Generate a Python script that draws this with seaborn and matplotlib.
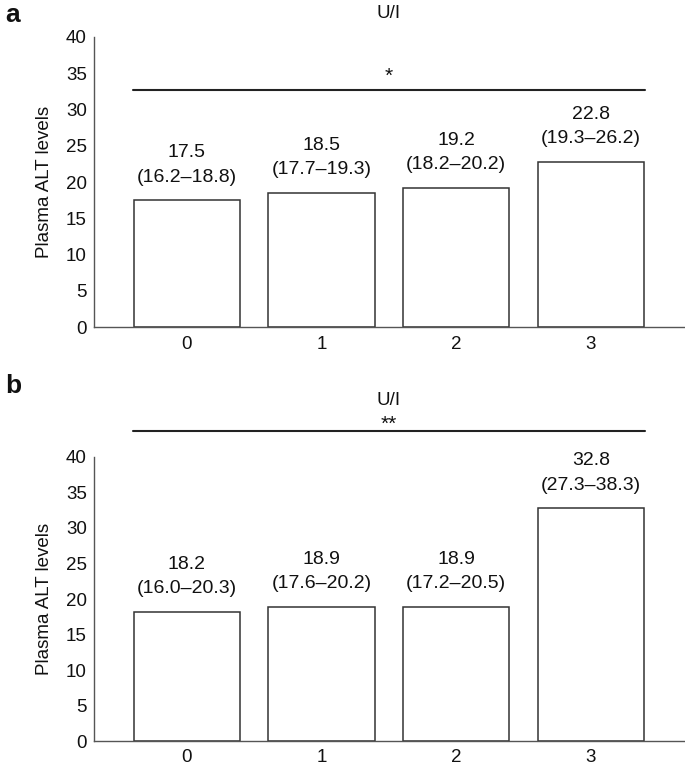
import numpy as np
import pandas as pd
import matplotlib
matplotlib.use('Agg')
import matplotlib.pyplot as plt
import seaborn as sns

sns.set_style('white')
plt.rcParams['font.family'] = ['Liberation Sans', 'DejaVu Sans']
plt.rcParams['text.color'] = '#111111'
plt.rcParams['axes.labelcolor'] = '#111111'
plt.rcParams['xtick.color'] = '#111111'
plt.rcParams['ytick.color'] = '#111111'

# data
groups = ['0', '1', '2', '3']
alt_a = [17.5, 18.5, 19.2, 22.8]
ci_a = ['(16.2–18.8)', '(17.7–19.3)', '(18.2–20.2)', '(19.3–26.2)']
alt_b = [18.2, 18.9, 18.9, 32.8]
ci_b = ['(16.0–20.3)', '(17.6–20.2)', '(17.2–20.5)', '(27.3–38.3)']
yticks = [0, 5, 10, 15, 20, 25, 30, 35, 40]

fig = plt.figure(figsize=(6.85, 7.68), dpi=100)
ax_a = fig.add_axes([0.137, 0.574, 0.863, 0.378])
ax_b = fig.add_axes([0.137, 0.035, 0.863, 0.370])


def draw(ax, vals, cis, stars, sig_y, title_y, star_y):
    df = pd.DataFrame({'group': groups, 'alt': vals})
    sns.barplot(data=df, x='group', y='alt', ax=ax, color='white',
                edgecolor='#333333', linewidth=1.1, width=0.79)
    ax.set_xlim(-0.69, 3.7)
    ax.set_ylim(0, 40)
    ax.set_yticks(yticks)
    ax.tick_params(axis='both', length=0, labelsize=13.5, pad=5)
    ax.tick_params(axis='x', pad=6)
    ax.set_xlabel('')
    ax.set_ylabel('Plasma ALT levels', fontsize=13.5, labelpad=9)
    for s in ['top', 'right']:
        ax.spines[s].set_visible(False)
    for s in ['left', 'bottom']:
        ax.spines[s].set_color('#555555')
        ax.spines[s].set_linewidth(1.0)
    for i, (v, c) in enumerate(zip(vals, cis)):
        ax.annotate(f'{v:.1f}', (i, v), xytext=(0, 34), textcoords='offset points',
                    ha='center', va='center', fontsize=14)
        ax.annotate(c, (i, v), xytext=(0, 16.5), textcoords='offset points',
                    ha='center', va='center', fontsize=14)
    ax.plot([-0.4, 3.4], [sig_y, sig_y], color='#222222', lw=1.5, clip_on=False)
    ax.text(1.5, star_y, stars, ha='center', va='center', fontsize=15, clip_on=False)
    ax.text(1.5, title_y, 'U/I', ha='center', va='center', fontsize=13.5, clip_on=False)


draw(ax_a, alt_a, ci_a, '*', 32.7, 43.2, 34.5)
draw(ax_b, alt_b, ci_b, '**', 43.7, 47.9, 44.6)

fig.text(0.008, 0.98, 'a', fontsize=19, fontweight='bold', va='center', ha='left')
fig.text(0.008, 0.498, 'b', fontsize=19, fontweight='bold', va='center', ha='left')

plt.savefig('out.png', dpi=100)
plt.close()
